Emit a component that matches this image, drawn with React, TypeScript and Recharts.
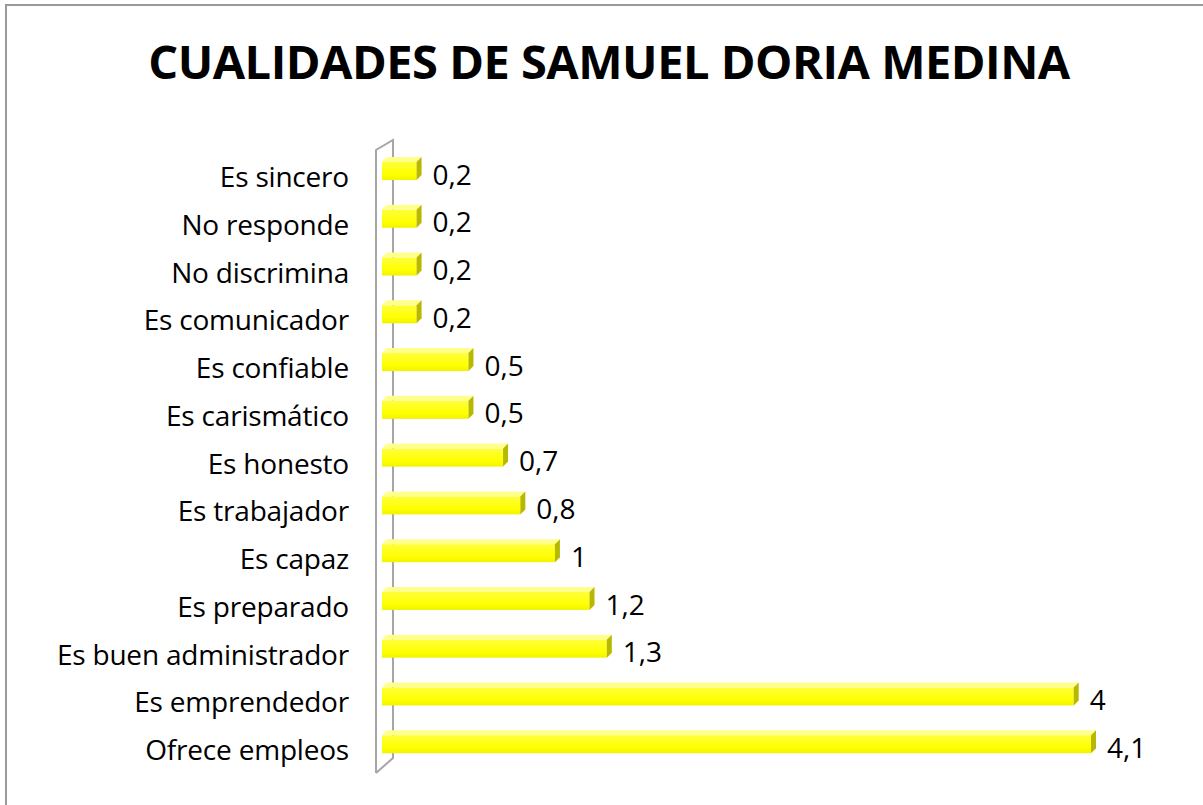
import React from 'react';
import { BarChart, Bar, XAxis, YAxis, LabelList } from 'recharts';

const categories = [
  'Es sincero',
  'No responde',
  'No discrimina',
  'Es comunicador',
  'Es confiable',
  'Es carismático',
  'Es honesto',
  'Es trabajador',
  'Es capaz',
  'Es preparado',
  'Es buen administrador',
  'Es emprendedor',
  'Ofrece empleos',
];
const values = [0.2, 0.2, 0.2, 0.2, 0.5, 0.5, 0.7, 0.8, 1, 1.2, 1.3, 4, 4.1];
const title = 'CUALIDADES DE SAMUEL DORIA MEDINA';

const data = categories.map((name, i) => ({ name, value: values[i] }));

const W = 1203;
const H = 805;
const M = { top: 145, right: 112, bottom: 39, left: 0 };
const YW = 382;
const PLOT_LEFT = M.left + YW;
const PLOT_TOP = M.top;
const PLOT_BOTTOM = H - M.bottom;
const FONT = '"Open Sans", "Noto Sans", sans-serif';
const D = 5;

const Bar3D = (props: any) => {
  const { x, y, width, height } = props;
  if (width == null || height == null) return null;
  const fy = y + D;
  const fh = height - D;
  return (
    <g>
      <rect x={x} y={fy} width={width} height={fh} fill="url(#barFront)" />
      <polygon
        points={`${x},${fy} ${x + D},${y} ${x + width + D},${y} ${x + width},${fy}`}
        fill="#FFFF8C"
      />
      <polygon
        points={`${x + width},${fy} ${x + width + D},${y} ${x + width + D},${y + fh} ${x + width},${y + height}`}
        fill="#B8B800"
      />
    </g>
  );
};

const Tick = (props: any) => {
  const { x, y, payload } = props;
  return (
    <text
      x={x + 2}
      y={y + 8}
      dy="0.36em"
      textAnchor="end"
      fontFamily={FONT}
      fontSize={28}
      letterSpacing={-0.2}
      fill="#000"
    >
      {payload.value}
    </text>
  );
};

const ValueLabel = (props: any) => {
  const { x, y, width, height, value } = props;
  return (
    <text
      x={x + width + D + 11}
      y={y + height / 2 + 6}
      dy="0.36em"
      textAnchor="start"
      fontFamily={FONT}
      fontSize={28}
      fill="#000"
    >
      {String(value).replace('.', ',')}
    </text>
  );
};

export default function App() {
  return (
    <div
      style={{
        position: 'fixed',
        left: 0,
        top: 0,
        width: W,
        height: H,
        overflow: 'hidden',
        background: '#fff',
      }}
    >
      <svg width={W} height={H} style={{ position: 'absolute', left: 0, top: 0 }}>
        <rect x={6} y={5} width={W + 20} height={H + 20} fill="#fff" stroke="#9a9a9a" strokeWidth={2} />
        <text
          x={609}
          y={79}
          textAnchor="middle"
          fontFamily={FONT}
          fontWeight={700}
          fontSize={47}
          letterSpacing={-0.5}
          fill="#000"
        >
          {title}
        </text>
        <g stroke="#a6a6a6" strokeWidth={2} fill="none">
          <polyline
            points={`${PLOT_LEFT - 6},${PLOT_BOTTOM + 7} ${PLOT_LEFT - 6},${PLOT_TOP + 5} ${PLOT_LEFT + 11},${PLOT_TOP - 5} ${PLOT_LEFT + 11},${PLOT_BOTTOM - 8} ${PLOT_LEFT - 6},${PLOT_BOTTOM + 7}`}
          />
        </g>
      </svg>
      <div style={{ position: 'absolute', left: 0, top: 0 }}>
        <BarChart width={W} height={H} data={data} layout="vertical" margin={M} barCategoryGap={0}>
          <defs>
            <linearGradient id="barFront" x1="0" y1="0" x2="0" y2="1">
              <stop offset="0%" stopColor="#FFFF3A" />
              <stop offset="70%" stopColor="#FFFF00" />
              <stop offset="100%" stopColor="#F2F200" />
            </linearGradient>
          </defs>
          <XAxis type="number" domain={[0, 4.1]} hide />
          <YAxis
            type="category"
            dataKey="name"
            width={YW}
            axisLine={false}
            tickLine={false}
            tickSize={0}
            tickMargin={35}
            interval={0}
            tick={<Tick />}
          />
          <Bar dataKey="value" barSize={23} shape={<Bar3D />} isAnimationActive={false}>
            <LabelList dataKey="value" content={<ValueLabel />} />
          </Bar>
        </BarChart>
      </div>
    </div>
  );
}
